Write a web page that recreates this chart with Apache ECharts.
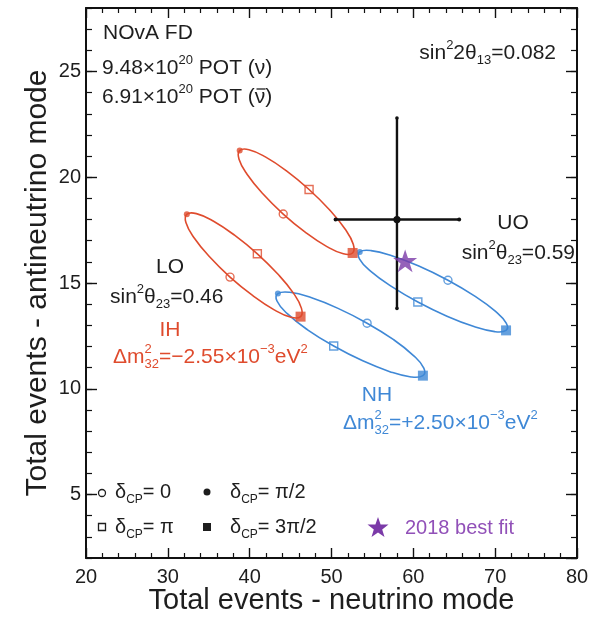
<!DOCTYPE html>
<html><head><meta charset="utf-8">
<script src="https://cdn.jsdelivr.net/npm/echarts@6/dist/echarts.min.js"></script>
<style>html,body{margin:0;padding:0;background:#fff}#c{width:595px;height:617px}</style>
</head><body><div id="c"></div><script>
// ---- data ----
// ellipse outlines: [neutrino events, antineutrino events], traced as delta_CP goes 0 -> 2pi (closed curves)
const ihUpperOutline = [[44.10,18.26],[41.58,19.23],[39.68,20.14],[38.70,20.85],[38.78,21.26],[39.91,21.30],[41.92,20.96],[44.50,20.30],[47.26,19.42],[49.78,18.45],[51.68,17.54],[52.66,16.83],[52.58,16.42],[51.45,16.38],[49.44,16.72],[46.86,17.38]];
const ihLowerOutline = [[37.60,15.28],[35.07,16.25],[33.18,17.15],[32.21,17.86],[32.32,18.25],[33.49,18.28],[35.54,17.93],[38.15,17.26],[40.94,16.38],[43.47,15.41],[45.37,14.51],[46.33,13.80],[46.22,13.41],[45.05,13.38],[43.00,13.73],[40.39,14.40]];
const nhUpperOutline = [[64.23,15.13],[60.67,15.80],[57.37,16.29],[54.83,16.53],[53.45,16.47],[53.43,16.13],[54.77,15.56],[57.27,14.85],[60.55,14.10],[64.11,13.43],[67.41,12.94],[69.95,12.70],[71.33,12.76],[71.35,13.10],[70.01,13.67],[67.51,14.38]];
const nhLowerOutline = [[54.35,13.10],[50.80,13.80],[47.49,14.31],[44.91,14.56],[43.45,14.50],[43.34,14.15],[44.60,13.55],[47.03,12.80],[50.27,12.02],[53.82,11.32],[57.13,10.81],[59.72,10.56],[61.17,10.62],[61.28,10.98],[60.02,11.57],[57.59,12.32]];
// marked points, in order delta_CP = 0, pi/2, pi, 3pi/2
const deltaLabels = ['0', 'π/2', 'π', '3π/2'];
const ihUpperPts = [[44.10,18.26],[38.78,21.26],[47.26,19.42],[52.58,16.42]];
const ihLowerPts = [[37.60,15.28],[32.32,18.25],[40.94,16.38],[46.22,13.41]];
const nhUpperPts = [[64.23,15.13],[53.45,16.47],[60.55,14.10],[71.33,12.76]];
const nhLowerPts = [[54.35,13.10],[43.45,14.50],[50.27,12.02],[61.17,10.62]];
// observed data point with error bars: [x, y, xLow, xHigh, yLow, yHigh]
const observed = [[58, 18, 50.5, 65.6, 13.8, 22.8]];
const bestFit2018 = [[59.0, 16.05]];
const xRange = [20, 80];
const yRange = [2, 28];

// ---- styling ----
const FONT = 'Liberation Sans, Arial, Helvetica, sans-serif';
const RED = '#df4b2d', BLUE = '#3f88d6', PURPLE = '#7b3aa8', INK = '#1e1e1e';
const markerStyles = [
  {symbol:'circle', symbolSize:8, itemStyle:{color:'rgba(0,0,0,0)', borderWidth:1.4}},
  {symbol:'circle', symbolSize:6, itemStyle:{borderWidth:0}},
  {symbol:'rect', symbolSize:8, itemStyle:{color:'rgba(0,0,0,0)', borderWidth:1.4}},
  {symbol:'rect', symbolSize:10, itemStyle:{borderWidth:0}}
];
function markerData(pts, color){
  return pts.map((p,i)=>{
    const s = markerStyles[i];
    const it = Object.assign({}, s.itemStyle, {borderColor: color});
    if (!it.color) it.color = color;
    return {value:p, symbol:s.symbol, symbolSize:s.symbolSize, itemStyle:it, name:'δ=' + deltaLabels[i]};
  });
}
function ellipse(data, color){
  return {type:'custom', data, z:2, silent:true, clip:true,
    renderItem:(params, api)=>{
      if (params.dataIndex !== 0) return null;
      const pts = data.map(p => api.coord(p));
      return {type:'polygon', shape:{points:pts, smooth:0.45}, style:{fill:'none', stroke:color, lineWidth:1.6}};
    }};
}
function markers(pts, color){
  return {type:'scatter', data:markerData(pts, color), z:3, silent:true};
}
const starPath = 'path://M0,-1 L0.2245,-0.309 L0.951,-0.309 L0.363,0.118 L0.588,0.809 L0,0.382 L-0.588,0.809 L-0.363,0.118 L-0.951,-0.309 L-0.2245,-0.309 Z';

function rich(F, color){
  return {
    n:{fontSize:F, lineHeight:28, fill:color, fontFamily:FONT},
    sup:{fontSize:Math.round(F*0.62), lineHeight:15, verticalAlign:'top', fill:color, fontFamily:FONT},
    supz:{fontSize:Math.round(F*0.62), lineHeight:15, verticalAlign:'top', fill:color, fontFamily:FONT, width:0, align:'left'},
    sub:{fontSize:Math.round(F*0.62), lineHeight:9, verticalAlign:'bottom', fill:color, fontFamily:FONT}
  };
}
function txt(text, x, y, align, F, color){
  return {type:'text', z:20, silent:true, style:{text, x, y, textAlign:align, verticalAlign:'middle', rich:rich(F, color||INK), fill:color||INK, fontSize:F, fontFamily:FONT}};
}
const F = 21;
const graphics = [
  txt('{n|NOvA FD}', 103, 33, 'left', F),
  txt('{n|9.48×10}{sup|20}{n| POT (ν)}', 102, 68, 'left', F),
  txt('{n|6.91×10}{sup|20}{n| POT (ν)}', 102, 97, 'left', F),
  {type:'line', z:20, silent:true, shape:{x1:256.5, y1:89, x2:265.5, y2:89}, style:{stroke:INK, lineWidth:1.3}},
  txt('{n|sin}{sup|2}{n|2θ}{sub|13}{n|=0.082}', 556, 53, 'right', F),
  txt('{n|UO}', 513, 223, 'center', F),
  txt('{n|sin}{sup|2}{n|θ}{sub|23}{n|=0.59}', 575, 253, 'right', F),
  txt('{n|LO}', 170, 267, 'center', F),
  txt('{n|sin}{sup|2}{n|θ}{sub|23}{n|=0.46}', 110, 297, 'left', F),
  txt('{n|IH}', 170, 330, 'center', F, RED),
  txt('{n|Δm}{supz|2}{sub|32}{n|=−2.55×10}{sup|−3}{n|eV}{sup|2}', 113, 357, 'left', F, RED),
  txt('{n|NH}', 377, 395, 'center', F, BLUE),
  txt('{n|Δm}{supz|2}{sub|32}{n|=+2.50×10}{sup|−3}{n|eV}{sup|2}', 343, 423, 'left', F, BLUE),
  // legend
  {type:'circle', z:20, shape:{cx:102, cy:493, r:3.5}, style:{fill:'none', stroke:INK, lineWidth:1.3}},
  txt('{n|δ}{sub|CP}{n|= 0}', 115, 492, 'left', 20),
  {type:'circle', z:20, shape:{cx:207, cy:492, r:3.5}, style:{fill:INK}},
  txt('{n|δ}{sub|CP}{n|= π/2}', 230, 492, 'left', 20),
  {type:'rect', z:20, shape:{x:98.5, y:523.5, width:7, height:7}, style:{fill:'none', stroke:INK, lineWidth:1.3}},
  txt('{n|δ}{sub|CP}{n|= π}', 115, 527, 'left', 20),
  {type:'rect', z:20, shape:{x:203, y:523, width:8, height:8}, style:{fill:INK}},
  txt('{n|δ}{sub|CP}{n|= 3π/2}', 230, 527, 'left', 20),
  {type:'polygon', z:20, shape:{points:[[378,517],[380.6,524.4],[388.5,524.6],[382.2,529.4],[384.5,536.9],[378,532.4],[371.5,536.9],[373.8,529.4],[367.5,524.6],[375.4,524.4]]}, style:{fill:PURPLE}},
  txt('{n|2018 best fit}', 405, 528, 'left', 20, '#9150b8')
];

function xAx(pos, labels){
  return {type:'value', min:xRange[0], max:xRange[1], interval:10, position:pos,
    axisLine:{show:true, onZero:false, lineStyle:{color:'#111', width:2}},
    axisTick:{show:true, inside:true, length:10, lineStyle:{color:'#111', width:1.4}},
    minorTick:{show:true, splitNumber:5, length:5, lineStyle:{color:'#111', width:1.2}},
    splitLine:{show:false}, minorSplitLine:{show:false},
    axisLabel:{show:labels, fontSize:20, color:INK, margin:9, fontFamily:FONT},
    name: labels ? 'Total events - neutrino mode' : '', nameLocation:'middle', nameGap:28, nameMoveOverlap:false,
    nameTextStyle:{fontSize:29, color:INK, fontFamily:FONT}};
}
function yMajor(pos, labels){
  return {type:'value', min:yRange[0], max:yRange[1], splitNumber:5, position:pos,
    axisLine:{show:true, onZero:false, lineStyle:{color:'#111', width:2}},
    axisTick:{show:true, inside:true, length:11, lineStyle:{color:'#111', width:1.4}},
    splitLine:{show:false},
    axisLabel:{show:labels, showMinLabel:false, showMaxLabel:false, fontSize:20, color:INK, margin:5, fontFamily:FONT},
    name: labels ? 'Total events - antineutrino mode' : '', nameLocation:'middle', nameGap:33, nameRotate:90, nameMoveOverlap:false,
    nameTextStyle:{fontSize:30, color:INK, fontFamily:FONT}};
}
function yMinor(pos){
  return {type:'value', min:yRange[0], max:yRange[1], interval:1, position:pos,
    axisLine:{show:false, onZero:false},
    axisTick:{show:true, inside:true, length:6, lineStyle:{color:'#111', width:1.2}},
    splitLine:{show:false}, axisLabel:{show:false}};
}

const option = {
  animation:false,
  backgroundColor:'#ffffff',
  grid:{left:86, right:18, top:8, bottom:59, containLabel:false, outerBoundsMode:'none'},
  xAxis:[xAx('bottom', true), xAx('top', false)],
  yAxis:[yMajor('left', true), yMinor('left'), yMajor('right', false), yMinor('right')],
  graphic: graphics,
  series:[
    ellipse(nhUpperOutline, BLUE),
    ellipse(nhLowerOutline, BLUE),
    ellipse(ihUpperOutline, RED),
    ellipse(ihLowerOutline, RED),
    markers(nhUpperPts, BLUE),
    markers(nhLowerPts, BLUE),
    markers(ihUpperPts, RED),
    markers(ihLowerPts, RED),
    {type:'custom', data:observed, z:6, silent:true,
      renderItem:(params, api)=>{
        const x = api.value(0), y = api.value(1);
        const c = api.coord([x, y]);
        const l = api.coord([api.value(2), y]);
        const r = api.coord([api.value(3), y]);
        const b = api.coord([x, api.value(4)]);
        const t = api.coord([x, api.value(5)]);
        const st = {stroke:'#111', lineWidth:2.4};
        return {type:'group', children:[
          {type:'line', shape:{x1:l[0], y1:l[1], x2:r[0], y2:r[1]}, style:st},
          {type:'line', shape:{x1:b[0], y1:b[1], x2:t[0], y2:t[1]}, style:st},
          {type:'circle', shape:{cx:l[0], cy:l[1], r:2}, style:{fill:'#111'}},
          {type:'circle', shape:{cx:r[0], cy:r[1], r:2}, style:{fill:'#111'}},
          {type:'circle', shape:{cx:b[0], cy:b[1], r:1.8}, style:{fill:'#111'}},
          {type:'circle', shape:{cx:t[0], cy:t[1], r:1.8}, style:{fill:'#111'}},
          {type:'circle', shape:{cx:c[0], cy:c[1], r:3.6}, style:{fill:'#111'}}
        ]};
      }},
    {type:'scatter', data:bestFit2018, symbol:starPath, symbolKeepAspect:true, symbolSize:24, itemStyle:{color:PURPLE}, z:7, silent:true}
  ]
};
const chart = echarts.init(document.getElementById('c'), null, {renderer:'canvas'});
chart.setOption(option);
</script></body></html>
